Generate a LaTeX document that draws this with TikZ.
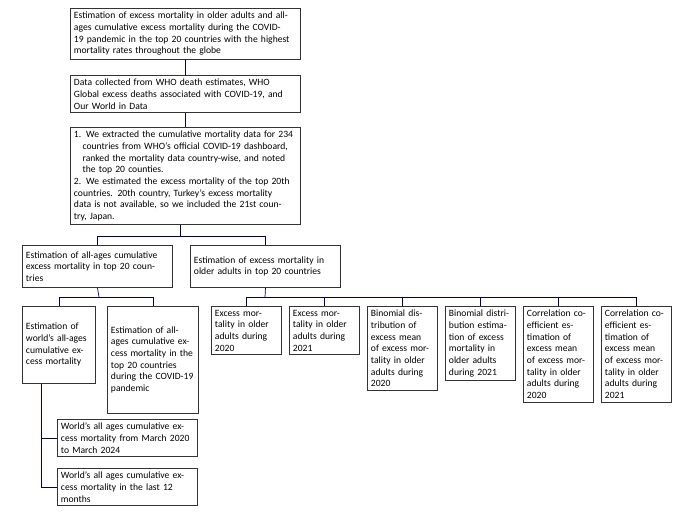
\documentclass[tikz,border=0pt]{standalone}
\usepackage{fontspec}
\setmainfont{Carlito}
\usetikzlibrary{positioning, calc}
\newcommand{\hng}{\hangindent=0.6em\hangafter=1\noindent}
\begin{document}
\begin{tikzpicture}[x=0.03cm, y=-0.03cm, box/.style={draw=black!80, line width=0.8pt, anchor=north west, align=left, inner sep=3pt, font=\fontsize{8.2}{10}\selectfont}, link/.style={draw=blue!30!black, line width=0.6pt}]
	\useasboundingbox (0,0) rectangle (686,527);
	\node[box, text width=6.7cm] (T) at (70,8) {\hng Estimation of excess mortality in older adults and all-ages cumulative excess mortality during the COVID-19 pandemic in the top 20 countries with the highest mortality rates throughout the globe};
	\node[box, text width=6.7cm] (D) at (70,75) {\hng Data collected from WHO death estimates, WHO Global excess deaths associated with COVID-19, and Our World in Data};
	\node[box, text width=6.7cm] (S) at (70,127) {\hangindent=0.9em\hangafter=1\noindent 1. We extracted the cumulative mortality data for 234 countries from WHO's official COVID-19 dashboard, ranked the mortality data country-wise, and noted the top 20 counties.\par
		\hangindent=0.9em\hangafter=1\noindent 2. We estimated the excess mortality of the top 20th countries. 20th country, Turkey's excess mortality data is not available, so we included the 21st country, Japan.};

	\node[box, text width=4.29cm, minimum height=1.26cm] (A) at (22,245) {\hng Estimation of all-ages cumulative excess mortality in top 20 countries};
	\node[box, text width=4.29cm, minimum height=1.26cm] (O) at (190,245) {\hng Estimation of excess mortality in older adults in top 20 countries};

	\node[box, text width=1.98cm, minimum height=2.3cm] (W) at (22,306) {\hng Estimation of world's all-ages cumulative excess mortality};
	\node[box, text width=2.52cm, minimum height=3.2cm] (P) at (107,306) {\hng Estimation of all-ages cumulative excess mortality in the top 20 countries during the COVID-19 pandemic};
	\node[box, text width=3.99cm] (M) at (57,419) {\hng World's all ages cumulative excess mortality from March 2020 to March 2024};
	\node[box, text width=3.99cm] (L) at (57,468) {\hng World's all ages cumulative excess mortality in the last 12 months};

	\node[box, text width=1.89cm] (E1) at (211,306) {\hng Excess mortality in older adults during 2020};
	\node[box, text width=1.89cm] (E2) at (289,306) {\hng Excess mortality in older adults during 2021};
	\node[box, text width=1.89cm] (B1) at (367,306) {\hng Binomial distribution of excess mean of excess mortality in older adults during 2020};
	\node[box, text width=1.89cm] (B2) at (445,306) {\hng Binomial distribution estimation of excess mortality in older adults during 2021};
	\node[box, text width=1.89cm] (C1) at (523,306) {\hng Correlation coefficient estimation of excess mean of excess mortality in older adults during 2020};
	\node[box, text width=1.89cm] (C2) at (601,306) {\hng Correlation coefficient estimation of excess mean of excess mortality in older adults during 2021};

	% trunk
	\coordinate (s0) at (180,236);
	\coordinate (a0) at (99,297);
	\coordinate (o0) at (265,297);
	\coordinate (w0) at (41,0);
	\path[link] (T) -- (D);
	\path[link] (D) -- (S);
	\path[link] (S.south -| s0) -- (s0);
	\path[link] (s0 -| A.north) -- (s0 -| O.north);
	\path[link] (s0 -| A.north) -- (A.north);
	\path[link] (s0 -| O.north) -- (O.north);
	% left branch
	\path[link] (A.south) -- (a0);
	\path[link] (a0 -| W.north) -- (a0 -| P.north);
	\path[link] (a0 -| W.north) -- (W.north);
	\path[link] (a0 -| P.north) -- (P.north);
	\path[link] (W.south -| w0) |- (M.west);
	\path[link] (W.south -| w0) |- (L.west);
	% right branch
	\path[link] (O.south) -- (o0);
	\path[link] (o0 -| E1.north) -- (o0 -| C2.north);
	\foreach \n in {E1, E2, B1, B2, C1, C2}
		\path[link] (o0 -| \n.north) -- (\n.north);
\end{tikzpicture}
\end{document}
